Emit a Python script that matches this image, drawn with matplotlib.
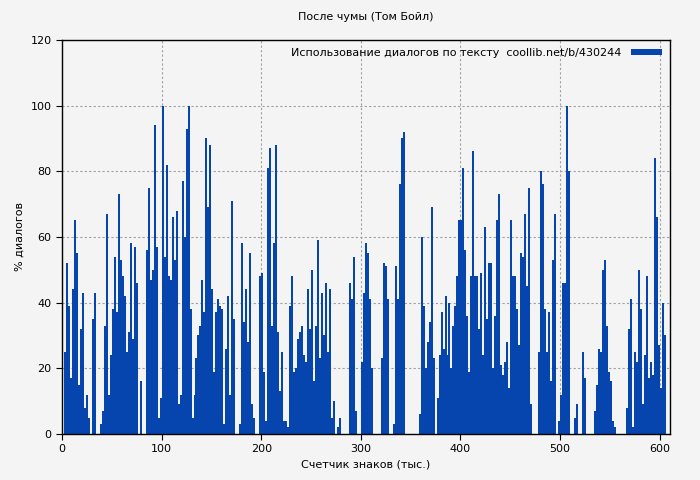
import numpy as np
import matplotlib
matplotlib.use('Agg')
import matplotlib.pyplot as plt

# данные: % диалогов, шаг 2 тыс. знаков, начиная с 3
dialog_pct = [
    # 3..101
    25, 52, 39, 17, 44, 65, 55, 15, 32, 43, 8, 12, 5, 0, 35, 43, 0, 0, 3, 7,
    33, 67, 12, 24, 38, 54, 37, 73, 53, 48, 42, 25, 31, 58, 29, 57, 46, 0, 16, 0,
    0, 56, 75, 47, 50, 94, 57, 5, 11, 100,
    # 103..199
    54, 82, 48, 47, 66, 53, 68, 9, 12, 77, 60, 93, 100, 38, 5, 12, 23, 30, 33, 47,
    37, 90, 69, 88, 44, 19, 37, 41, 39, 38, 3, 26, 42, 12, 71, 35, 0, 0, 3, 58,
    34, 44, 28, 55, 9, 5, 0, 0, 48,
    # 201..297
    49, 19, 4, 81, 87, 33, 58, 88, 31, 13, 25, 4, 4, 2, 39, 48, 19, 20, 29, 31,
    33, 24, 22, 44, 32, 50, 16, 33, 59, 23, 43, 30, 46, 25, 44, 5, 10, 0, 2, 5,
    0, 0, 0, 0, 46, 41, 54, 7, 0,
    # 299..397
    0, 22, 43, 58, 55, 41, 20, 0, 0, 0, 0, 23, 52, 51, 41, 0, 0, 3, 51, 41,
    76, 90, 92, 0, 0, 0, 0, 0, 0, 0, 6, 60, 39, 20, 28, 34, 69, 23, 0, 11,
    24, 37, 26, 42, 24, 40, 20, 33, 39, 48,
    # 399..495
    65, 65, 81, 56, 36, 19, 48, 86, 48, 48, 32, 49, 24, 63, 35, 52, 52, 20, 36, 65,
    73, 21, 18, 22, 28, 14, 65, 48, 48, 38, 27, 55, 54, 67, 45, 75, 9, 0, 0, 0,
    25, 80, 76, 38, 25, 37, 16, 53, 67,
    # 497..605
    0, 4, 12, 46, 46, 100, 80, 0, 0, 5, 9, 0, 0, 25, 17, 0, 0, 0, 0, 7,
    15, 26, 25, 50, 53, 33, 19, 16, 4, 2, 0, 0, 0, 0, 0, 8, 32, 41, 2, 25,
    22, 50, 38, 9, 24, 48, 17, 22, 18, 84, 66, 27, 14, 40, 30,
]
x_pos = np.arange(len(dialog_pct)) * 2 + 3

x_ticks = [0, 100, 200, 300, 400, 500, 600]
y_ticks = [0, 20, 40, 60, 80, 100, 120]

bg = '#f4f4f4'
fig = plt.figure(figsize=(7, 4.8), dpi=100, facecolor=bg)
ax = fig.add_axes([0.0886, 0.096, 0.868, 0.821], facecolor=bg)

ax.bar(x_pos, dialog_pct, width=2.0, color='#0645ad', linewidth=0,
       label='Использование диалогов по тексту  coollib.net/b/430244')

ax.set_xlim(0, 610)
ax.set_ylim(0, 120)
ax.set_xticks(x_ticks)
ax.set_yticks(y_ticks)
ax.tick_params(labelsize=8, length=4, direction='out')
ax.grid(True, linestyle=(0, (2, 2)), color='#a0a0a0', linewidth=0.8)
ax.set_axisbelow(True)
for s in ax.spines.values():
    s.set_linewidth(1)

ax.set_title('После чумы (Том Бойл)', fontsize=8, pad=14)
ax.set_xlabel('Счетчик знаков (тыс.)', fontsize=8)
ax.set_ylabel('% диалогов', fontsize=8)

leg = ax.legend(loc='upper right', fontsize=8, frameon=False, markerfirst=False,
                handlelength=2.8, handleheight=0.5, borderaxespad=0.3)

plt.savefig('out.png', dpi=100, facecolor=bg)
